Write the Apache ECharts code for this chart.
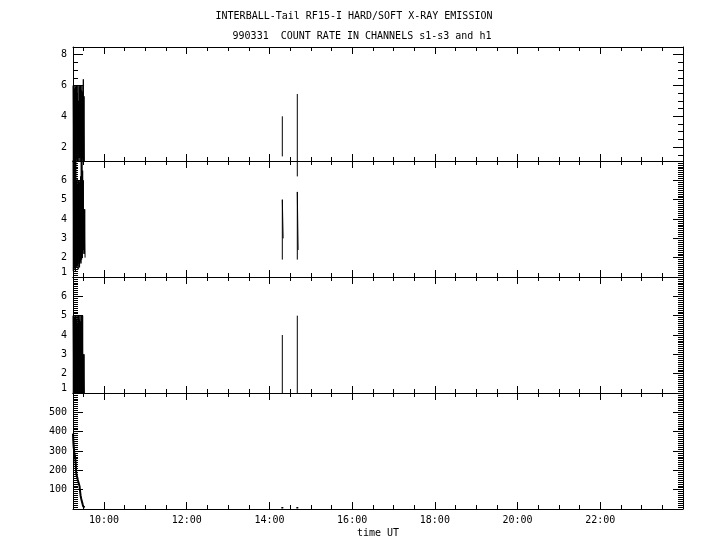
<!DOCTYPE html>
<html><head><meta charset="utf-8">
<script src="https://cdn.jsdelivr.net/npm/echarts@6/dist/echarts.min.js"></script>
<style>html,body{margin:0;padding:0;background:#fff}#c{width:720px;height:550px}</style>
</head><body><div id="c"></div>
<script>
// ---------- text ----------
const TITLE1 = 'INTERBALL-Tail RF15-I HARD/SOFT X-RAY EMISSION';
const TITLE2 = '990331  COUNT RATE IN CHANNELS s1-s3 and h1';
const X_NAME = 'time UT';
const X_MIN = '09:15:00';
const X_MAX = '24:00:00';
const X_TICK_LABELS = ['10:00', '12:00', '14:00', '16:00', '18:00', '20:00', '22:00'];

// ---------- y ticks per panel ----------
const S1_TICKS = [2, 4, 6, 8];
const S2_TICKS = [1, 2, 3, 4, 5, 6];
const S3_TICKS = [1, 2, 3, 4, 5, 6];
const H1_TICKS = [100, 200, 300, 400, 500];

// ---------- data ----------
const DENSE_TIMES = ['09:15:00','09:15:30','09:16:00','09:16:30','09:17:00','09:17:30','09:18:00','09:18:30','09:19:00','09:19:30',
  '09:20:00','09:20:30','09:21:00','09:21:30','09:22:00','09:22:30','09:23:00','09:23:30','09:24:00','09:24:30',
  '09:25:00','09:25:30','09:26:00','09:26:30','09:27:00','09:27:30','09:28:00','09:28:30','09:29:00','09:29:30',
  '09:30:00','09:30:30','09:31:00','09:31:30','09:32:00','09:32:30'];
const S1_DENSE = [6,1.1,6,1.1,5.8,1.1,6,1.1,5.9,1.1,6,1.2,5.5,1.1,6,1.3,5,1.1,6,1.3,5.9,1.1,6,1.3,5.7,1.1,6,1.2,5.6,1.1,6.4,1.1,5.3,1.1,1.1,1.1];
const S2_DENSE = [7.5,1.3,7.5,1.4,7.4,1.5,7.3,1.3,7.2,1.6,6.0,1.5,6.1,1.6,5.8,1.4,6.0,1.7,5.9,1.5,6.0,1.8,6.2,1.7,7.2,1.9,7.1,2.0,6.5,2.2,6.0,2.4,4.5,2.2,4.5,2.0];
const S3_DENSE = [5,1,5,1,4.9,1,5,1,5,1,4.8,1,5,1,4.6,1,5,1,4.8,1,5,1,4.7,1,5,1,5,1,5,1,3,1,3,1,1,1];
const H1_DENSE = [390,350,320,305,290,280,270,250,230,190,178,170,165,158,150,160,152,148,140,118,100,85,70,60,52,47,38,30,24,18,12,11,10,10,9,8];

const SPIKE_A_TIMES = ['14:18:40','14:18:41','14:19:50'];
const SPIKE_B_TIMES = ['14:40:25','14:40:26','14:41:35'];
const S1_SPIKE_A = [1.4, 4.0];
const S1_SPIKE_B = [0.1, 5.45];
const S2_SPIKE_A = [1.9, 5.0, 3.0];
const S2_SPIKE_B = [1.9, 5.4, 2.4];
const S3_SPIKE_A = [0.9, 4.0];
const S3_SPIKE_B = [0.9, 5.0];
const H1_SPIKE_A = [2, 10];
const H1_SPIKE_B = [2, 10];

// ---------- helpers ----------
function hx(s){const p=s.split(':').map(Number);return p[0]+(p[1]||0)/60+(p[2]||0)/3600;}
function pts(times, vals){return vals.map((v,i)=>[hx(times[i]), v]);}

const FONT = 'DejaVu Sans Mono';
const xmin = hx(X_MIN), xmax = hx(X_MAX);
const xMajor = X_TICK_LABELS.map(hx);
const xMinor = []; for (let h = 9.5; h < 24; h += 0.5) xMinor.push(h);

const panels = [
  {top:47, height:114, min:1.1, max:8.5, major:S1_TICKS, minorStep:0.5, clip:false,
   segs:[pts(DENSE_TIMES,S1_DENSE), pts(SPIKE_A_TIMES,S1_SPIKE_A), pts(SPIKE_B_TIMES,S1_SPIKE_B)]},
  {top:161, height:116, min:1, max:7, major:S2_TICKS, minorStep:0.1, clip:true, alignMin:true,
   segs:[pts(DENSE_TIMES,S2_DENSE), pts(SPIKE_A_TIMES,S2_SPIKE_A), pts(SPIKE_B_TIMES,S2_SPIKE_B)]},
  {top:277, height:116, min:1, max:7, major:S3_TICKS, minorStep:0.1, clip:true, alignMin:true,
   segs:[pts(DENSE_TIMES,S3_DENSE), pts(SPIKE_A_TIMES,S3_SPIKE_A), pts(SPIKE_B_TIMES,S3_SPIKE_B)]},
  {top:393, height:116, min:0, max:600, major:H1_TICKS, minorStep:10, clip:true, lw:2,
   segs:[pts(DENSE_TIMES,H1_DENSE), pts(SPIKE_A_TIMES,H1_SPIKE_A), pts(SPIKE_B_TIMES,H1_SPIKE_B)]}
];

const grid = [], xAxis = [], yAxis = [], series = [];
const black = {color:'#000', width:1};
panels.forEach((p, g) => {
  grid.push({left:73, right:37, top:p.top, height:p.height, containLabel:false});
  const minorY = [];
  for (let k = Math.ceil(p.min / p.minorStep - 1e-9); k * p.minorStep <= p.max + 1e-9; k++) {
    const v = +(k * p.minorStep).toFixed(6);
    if (v > p.min + 1e-9 && v < p.max - 1e-9) minorY.push(v);
  }
  ['bottom','top'].forEach(pos => {
    xAxis.push({gridIndex:g, type:'value', position:pos, min:xmin, max:xmax,
      axisLine:{show:true, onZero:false, lineStyle:black},
      axisTick:{show:true, inside:true, length:7, customValues:xMajor, lineStyle:black},
      axisLabel:{show:(g===3 && pos==='bottom'), customValues:xMajor, color:'#000', fontFamily:FONT, fontSize:10, margin:6,
        formatter:v => { const s = X_TICK_LABELS.find(t => Math.abs(hx(t)-v) < 1e-6); return s || ''; }},
      splitLine:{show:false},
      name:(g===3 && pos==='bottom') ? X_NAME : '', nameLocation:'middle', nameGap:19,
      nameTextStyle:{color:'#000', fontFamily:FONT, fontSize:10}});
    xAxis.push({gridIndex:g, type:'value', position:pos, min:xmin, max:xmax,
      axisLine:{show:false, onZero:false},
      axisTick:{show:true, inside:true, length:4, customValues:xMinor, lineStyle:black},
      axisLabel:{show:false}, splitLine:{show:false}});
  });
  ['left','right'].forEach(pos => {
    const lab = {show:pos==='left', customValues:p.major, color:'#000', fontFamily:FONT, fontSize:10, margin:6};
    if (p.alignMin) lab.verticalAlignMinLabel = 'bottom';
    yAxis.push({gridIndex:g, type:'value', position:pos, min:p.min, max:p.max,
      axisLine:{show:true, onZero:false, lineStyle:black},
      axisTick:{show:true, inside:true, length:10, customValues:p.major, lineStyle:black},
      axisLabel:lab, splitLine:{show:false}});
    yAxis.push({gridIndex:g, type:'value', position:pos, min:p.min, max:p.max,
      axisLine:{show:false, onZero:false},
      axisTick:{show:true, inside:true, length:5, customValues:minorY, lineStyle:black},
      axisLabel:{show:false}, splitLine:{show:false}});
  });
  p.segs.forEach(seg => {
    series.push({type:'line', xAxisIndex:g*4, yAxisIndex:g*4, data:seg, symbol:'none', clip:p.clip,
      lineStyle:{color:'#000', width:p.lw || 1}, itemStyle:{color:'#000'}, animation:false, silent:true});
  });
});

const chart = echarts.init(document.getElementById('c'), null, {renderer:'canvas'});
chart.setOption({
  backgroundColor:'#fff',
  animation:false,
  title:[
    {text:TITLE1, left:354, top:11, textAlign:'center', padding:0, textStyle:{color:'#000', fontFamily:FONT, fontSize:10, fontWeight:'normal'}},
    {text:TITLE2, left:362, top:31, textAlign:'center', padding:0, textStyle:{color:'#000', fontFamily:FONT, fontSize:10, fontWeight:'normal'}}
  ],
  grid, xAxis, yAxis, series
});
</script></body></html>
